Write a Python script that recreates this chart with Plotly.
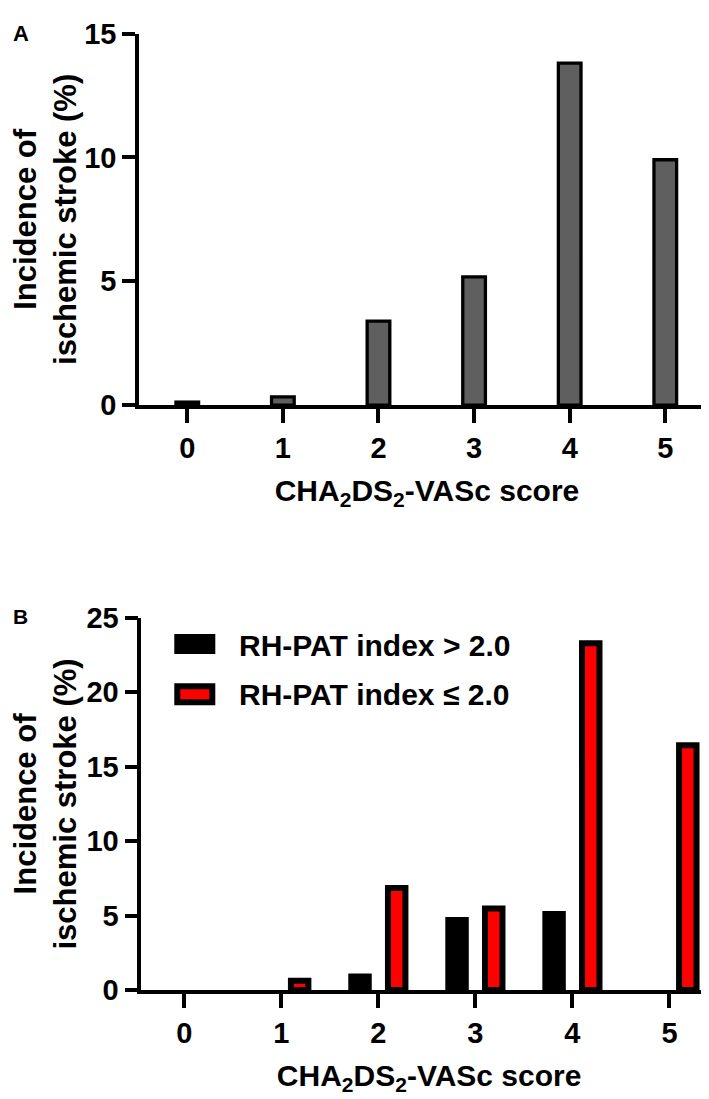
import plotly.graph_objects as go

# ---------------- data ----------------
scores = [0, 1, 2, 3, 4, 5]
score_labels = ["0", "1", "2", "3", "4", "5"]
incidence_all = [0.12, 0.33, 3.39, 5.18, 13.81, 9.91]          # panel A
rhpat_high = [0, 0, 0.91, 4.71, 5.10, 0]                         # RH-PAT index > 2.0
rhpat_low = [0, 0.62, 6.85, 5.48, 23.3, 16.45]                   # RH-PAT index <= 2.0
yticks_a = [0, 5, 10, 15]
yticks_b = [0, 5, 10, 15, 20, 25]
name_high = "RH-PAT index > 2.0"
name_low = "RH-PAT index \u2264 2.0"
x_title = "CHA<sub>2</sub>DS<sub>2</sub>-VASc score"
y_title = "Incidence of<br>ischemic stroke (%)"

# ---------------- geometry helpers ----------------
W, H = 709, 1099
FONT = "Liberation Sans, Arial, Helvetica, sans-serif"


def px(x):
    return x / W


def py(y):
    return 1 - y / H


def outline(values, w):
    # no outline for empty (zero) bars, so they stay invisible
    return [0 if v == 0 else w for v in values]


fig = go.Figure()

fig.add_trace(go.Bar(
    x=scores, y=incidence_all, xaxis="x", yaxis="y",
    width=0.237, name="All patients", showlegend=False,
    marker=dict(color="#5f5f5f", line=dict(color="black", width=outline(incidence_all, 3.3))),
))
fig.add_trace(go.Bar(
    x=scores, y=rhpat_high, xaxis="x2", yaxis="y2",
    width=0.18, offset=-0.279, name=name_high, showlegend=False,
    marker=dict(color="black", line=dict(color="black", width=outline(rhpat_high, 6))),
))
fig.add_trace(go.Bar(
    x=scores, y=rhpat_low, xaxis="x2", yaxis="y2",
    width=0.18, offset=0.099, name=name_low, showlegend=False,
    marker=dict(color="#ff0000", line=dict(color="black", width=outline(rhpat_low, 6))),
))

axis_common = dict(
    showline=True, linewidth=3.5, linecolor="black",
    ticks="outside", tickwidth=3.5, tickcolor="black",
    showgrid=False, zeroline=False, fixedrange=True,
    tickfont=dict(family=FONT, size=29, color="black", weight="bold"),
)
xtitle = dict(text=x_title, standoff=18,
              font=dict(family=FONT, size=30, color="black", weight="bold"))
ytitle = dict(text=y_title, standoff=12,
              font=dict(family=FONT, size=31, color="black", weight="bold"))

fig.update_layout(
    width=W, height=H,
    margin=dict(l=0, r=0, t=0, b=0),
    paper_bgcolor="white", plot_bgcolor="white",
    barmode="overlay",
    showlegend=False,
    xaxis=dict(domain=[px(131), px(707)], range=[-0.505, 5.52], anchor="y",
               tickvals=scores, ticktext=score_labels, ticklen=14,
               title=xtitle, **axis_common),
    yaxis=dict(domain=[py(392.5), py(10)], range=[0, 15], anchor="x",
               tickvals=yticks_a, ticklen=13, title=ytitle, **axis_common),
    xaxis2=dict(domain=[px(133.3), 1.0], range=[-0.443, 5.49], anchor="y2",
                tickvals=scores, ticktext=score_labels, ticklen=14,
                title=xtitle, **axis_common),
    yaxis2=dict(domain=[py(995), py(611.7)], range=[0, 25], anchor="x2",
                tickvals=yticks_b, ticklen=13, title=ytitle, **axis_common),
)

annotations = [
    dict(text="A", x=px(3), y=py(10), xanchor="left", yanchor="middle",
         font=dict(family=FONT, size=22, color="black", weight="bold")),
    dict(text="B", x=px(3), y=py(610), xanchor="left", yanchor="middle",
         font=dict(family=FONT, size=21, color="black", weight="bold")),
    dict(text=name_high, x=px(229), y=py(640), xanchor="left", yanchor="middle",
         font=dict(family=FONT, size=30, color="black", weight="bold")),
    dict(text=name_low, x=px(229), y=py(691), xanchor="left", yanchor="middle",
         font=dict(family=FONT, size=30, color="black", weight="bold")),
]
for a in annotations:
    a.update(xref="paper", yref="paper", showarrow=False)
fig.update_layout(annotations=annotations)

# legend swatches
fig.add_shape(type="rect", xref="paper", yref="paper",
              x0=px(169.3), x1=px(204.3), y0=py(645.7), y1=py(631.3),
              fillcolor="black", line=dict(color="black", width=6))
fig.add_shape(type="rect", xref="paper", yref="paper",
              x0=px(169.3), x1=px(204.3), y0=py(698.7), y1=py(682),
              fillcolor="#ff0000", line=dict(color="black", width=6))

fig.write_html("out.html")
